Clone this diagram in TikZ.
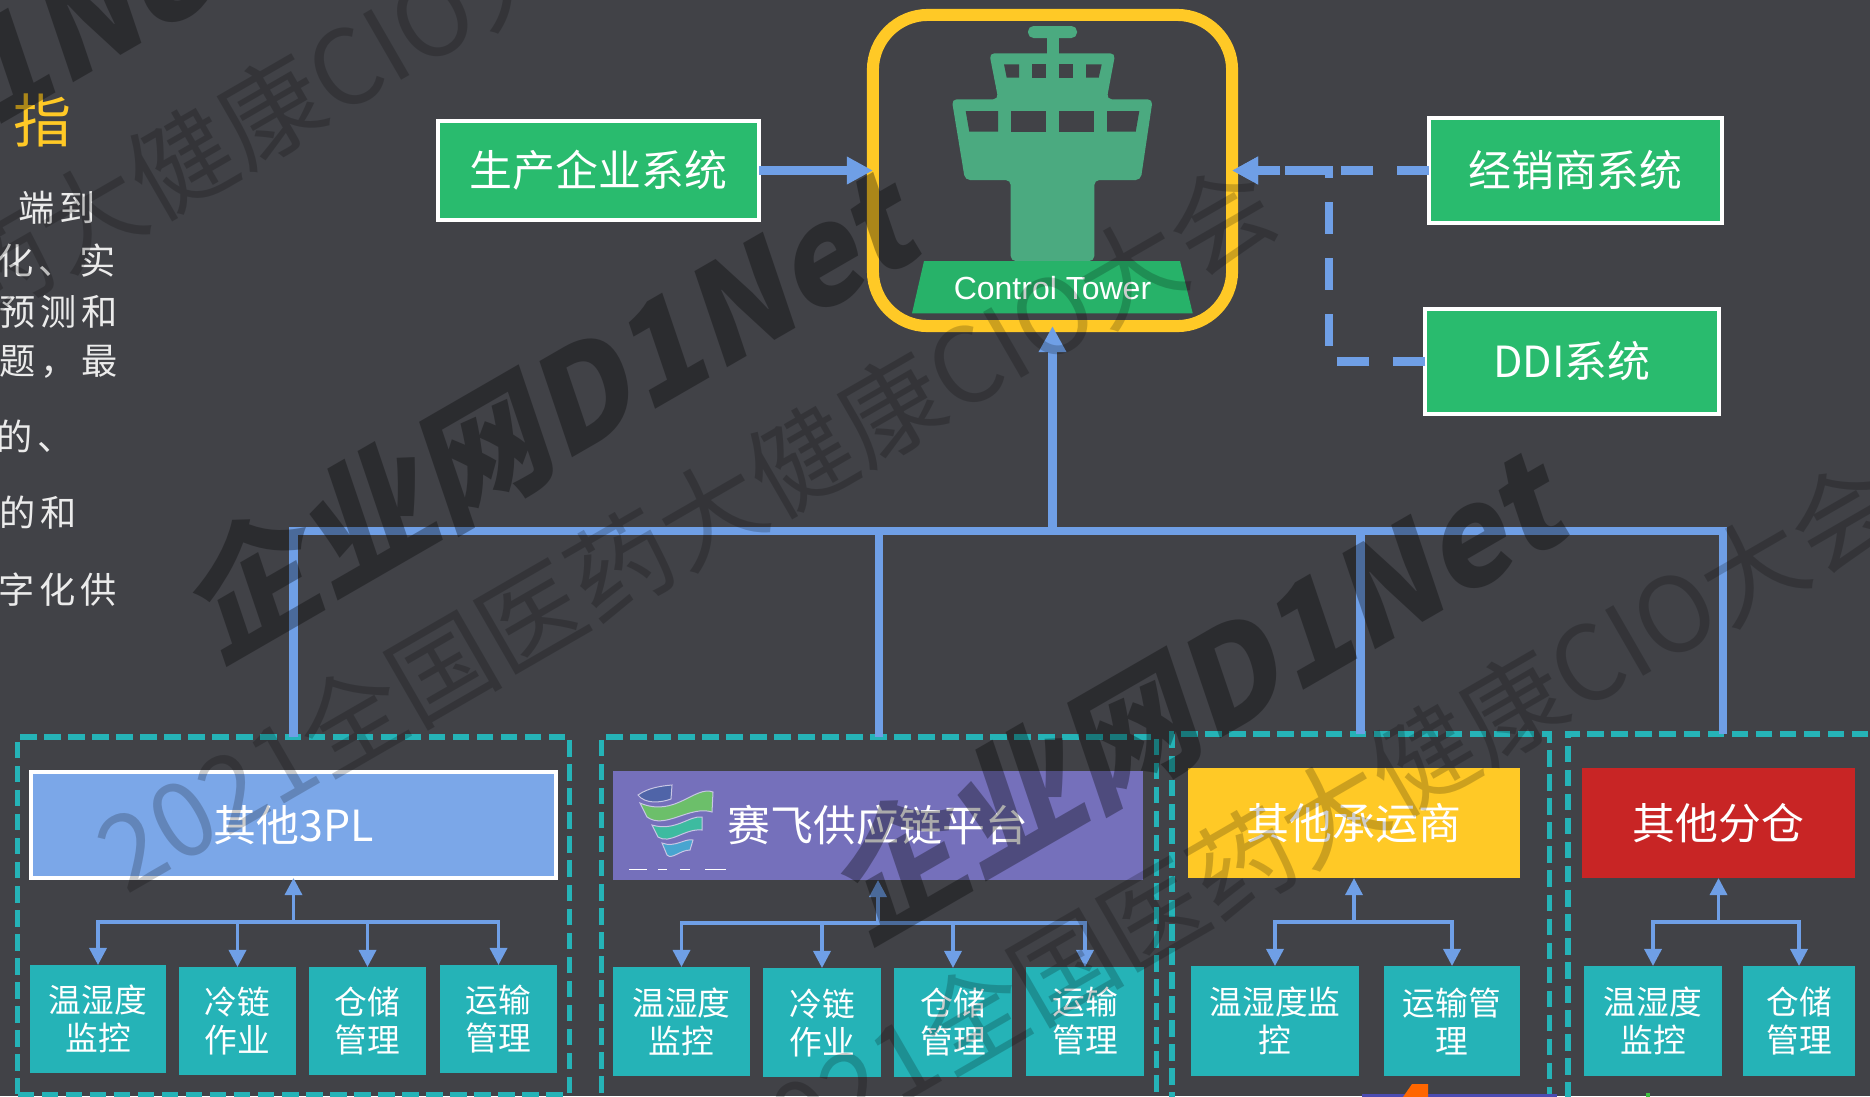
\documentclass[tikz,border=0pt]{standalone}
\usepackage{fontspec}
\usepackage{xcolor}
\usetikzlibrary{arrows.meta}
\usetikzlibrary{positioning}
\setmainfont{Noto Sans CJK SC}
\newfontfamily\arialfont{Liberation Sans}
\newfontfamily\slantfont[FakeSlant=0.2]{Noto Sans CJK SC}
\definecolor{bgcol}{HTML}{414247}
\definecolor{bluecol}{HTML}{6F9FE6}
\definecolor{tealcol}{HTML}{25B3B7}
\definecolor{yellowcol}{HTML}{FFC926}
\definecolor{redcol}{HTML}{C82525}
\definecolor{purplecol}{HTML}{7570BB}
\definecolor{greencol}{HTML}{29BB6E}
\definecolor{towercol}{HTML}{4BAA80}
\tikzset{
	group/.style={draw=tealcol,rectangle,line width=0.52mm,dash pattern=on 1.65mm off 0.75mm,outer sep=0pt},
	system/.style={draw=white,rectangle,fill=greencol,text=white,line width=0.4mm,outer sep=0pt,font=\fontsize{12.2}{14}\selectfont},
	head/.style={rectangle,text=white,outer sep=0pt,minimum height=1.1cm,font=\fontsize{12.2}{14}\selectfont},
	task/.style={rectangle,fill=tealcol,text=white,outer sep=0pt,inner sep=0pt,align=center,font=\fontsize{9.3}{10.8}\selectfont},
	bus/.style={draw=bluecol,line width=0.85mm},
	busdash/.style={bus,dash pattern=on 3.2mm off 2.4mm},
	sub/.style={draw=bluecol,line width=0.34mm},
	side/.style={anchor=east,text=white!92!black,inner sep=0pt,font=\fontsize{10.3}{12}\selectfont\addfontfeature{LetterSpace=13}},
	wmbig/.style={text=black,text opacity=0.33,rotate=30,anchor=base,inner sep=0pt,font=\fontsize{38}{40}\slantfont\bfseries},
	wmthin/.style={text=black,text opacity=0.2,rotate=30,inner sep=0pt,font=\fontsize{29.5}{32}\selectfont}
}
\begin{document}
\begin{tikzpicture}[x=0.01cm,y=-0.01cm,every path/.style={>={Triangle[length=2.6mm,width=2.6mm]}}]
		\clip (0,0) rectangle (1870,1096);
		\fill[bgcol] (0,0) rectangle (1870,1096);

		% draw cut off text at the left edge
		\node (L0) at (72,120) [anchor=east,text=yellowcol,inner sep=0pt,font=\fontsize{16.5}{18}\selectfont] {指};
		\node (L1) at (96,208) [side] {端到};
		\node (L2) at (116,261) [side] {化、实};
		\node (L3) at (118,312) [side] {预测和};
		\node (L4) at (118,362) [side] {题，最};
		\node (L5) at (74,436) [side] {的、};
		\node (L6) at (77,513) [side] {的和};
		\node (L7) at (117,590) [side] {字化供};

		% draw dashed groups
		\node (G1) at (293.5,915.5) [group,minimum width=5.51cm,minimum height=3.57cm] {};
		\node (G2) at (879,925) [group,minimum width=5.545cm,minimum height=3.76cm] {};
		\node (G3) at (1360.5,922) [group,minimum width=3.77cm,minimum height=3.76cm] {};
		\node (G4) at (1723,922) [group,minimum width=3.1cm,minimum height=3.76cm] {};

		% draw group heads
		\node (H1) at (293.5,825) [head,draw=white,line width=0.4mm,fill=bluecol!92!white,minimum width=5.25cm,minimum height=1.06cm] {其他3PL};
		\node (H2) at (878,825.5) [head,fill=purplecol,minimum width=5.3cm,minimum height=1.09cm] {赛飞供应链平台};
		\node (H3) at (1354,823) [head,fill=yellowcol,minimum width=3.32cm] {其他承运商};
		\node (H4) at (1718.5,823) [head,fill=redcol,minimum width=2.73cm] {其他分仓};

		% draw logo in the purple head
		\filldraw[fill={rgb,255:red,79;green,100;blue,168},draw=white!60!purplecol,line width=0.1mm] (638,795) .. controls (648,788) and (660,786) .. (672,785) -- (671,799) .. controls (660,803) and (645,804) .. (638,795) -- cycle;
		\filldraw[fill={rgb,255:red,108;green,191;blue,106},draw=white!60!purplecol,line width=0.1mm] (640,803) .. controls (675,818) and (695,785) .. (713,792) -- (712,812) .. controls (690,805) and (665,830) .. (647,817) -- cycle;
		\filldraw[fill={rgb,255:red,61;green,187;blue,160},draw=white!60!purplecol,line width=0.1mm] (652,825) .. controls (675,832) and (690,815) .. (702,817) -- (702,830) .. controls (685,828) and (670,845) .. (658,837) -- cycle;
		\filldraw[fill={rgb,255:red,72;green,165;blue,208},draw=white!60!purplecol,line width=0.1mm] (662,843) .. controls (675,848) and (685,838) .. (693,840) -- (690,850) .. controls (680,850) and (672,860) .. (667,855) -- cycle;
		\draw[white,line width=0.08mm] (629,869) -- (647,869) (658,869) -- (667,869) (680,869) -- (690,869) (705,869) -- (726,869);

		% draw tasks of group 1
		\node (T11) at (98,1019) [task,minimum width=1.36cm,minimum height=1.08cm] {温湿度\\监控};
		\node (T12) at (237.5,1021) [task,minimum width=1.17cm,minimum height=1.08cm] {冷链\\作业};
		\node (T13) at (367.5,1021) [task,minimum width=1.17cm,minimum height=1.08cm] {仓储\\管理};
		\node (T14) at (498.5,1019) [task,minimum width=1.17cm,minimum height=1.08cm] {运输\\管理};

		% draw tasks of group 2
		\node (T21) at (681.5,1021.5) [task,minimum width=1.37cm,minimum height=1.09cm] {温湿度\\监控};
		\node (T22) at (822,1022.5) [task,minimum width=1.18cm,minimum height=1.09cm] {冷链\\作业};
		\node (T23) at (953,1022.5) [task,minimum width=1.18cm,minimum height=1.09cm] {仓储\\管理};
		\node (T24) at (1085,1021.5) [task,minimum width=1.18cm,minimum height=1.09cm] {运输\\管理};

		% draw tasks of group 3
		\node (T31) at (1275,1021) [task,minimum width=1.68cm,minimum height=1.1cm] {温湿度监\\控};
		\node (T32) at (1452,1021) [task,minimum width=1.36cm,minimum height=1.1cm] {运输管\\理};

		% draw tasks of group 4
		\node (T41) at (1653,1021) [task,minimum width=1.38cm,minimum height=1.1cm] {温湿度\\监控};
		\node (T42) at (1799,1021) [task,minimum width=1.12cm,minimum height=1.1cm] {仓储\\管理};

		% draw thin bus lines inside the groups
		\coordinate (B1) at (293.5,922);
		\coordinate (B2) at (878,923);
		\coordinate (B3) at (1354,922);
		\coordinate (B4) at (1718.5,922);
		\begin{scope}[every path/.style={>={Triangle[length=1.7mm,width=1.7mm]}}]
		\draw[sub,->] (B1) to (H1.south);
		\draw[sub,->] (B1) -| (T11.north);
		\draw[sub,->] (B1) -| (T12.north);
		\draw[sub,->] (B1) -| (T13.north);
		\draw[sub,->] (B1) -| (T14.north);
		\draw[sub,->] (B2) to (H2.south);
		\draw[sub,->] (B2) -| (T21.north);
		\draw[sub,->] (B2) -| (T22.north);
		\draw[sub,->] (B2) -| (T23.north);
		\draw[sub,->] (B2) -| (T24.north);
		\draw[sub,->] (B3) to (H3.south);
		\draw[sub,->] (B3) -| (T31.north);
		\draw[sub,->] (B3) -| (T32.north);
		\draw[sub,->] (B4) to (H4.south);
		\draw[sub,->] (B4) -| (T41.north);
		\draw[sub,->] (B4) -| (T42.north);
		\end{scope}

		% draw control tower
		\node (CT) at (1052.5,170.5) [draw=yellowcol,rectangle,line width=1.2mm,rounded corners=5.5mm,outer sep=0pt,minimum width=3.59cm,minimum height=3.11cm] {};
		\fill[towercol,rounded corners=0.55mm] (1028,26) rectangle (1077,38);
		\fill[towercol] (1047,36) rectangle (1059,55);
		\fill[towercol,rounded corners=0.5mm] (989.3,53.3) -- (1115.3,53.3) -- (1106.7,99.3) -- (1152.7,99.3) -- (1140.7,180) -- (1094.3,180) -- (1094.3,261) -- (1010.7,261) -- (1010.7,180) -- (965,180) -- (951.7,99.3) -- (998.3,99.3) -- cycle;
		\fill[bgcol] (1004,64.3) -- (1019,64.3) -- (1019,77.7) -- (1006.7,77.7) -- cycle;
		\fill[bgcol] (1031.7,64.3) rectangle (1046,77.7);
		\fill[bgcol] (1059,64.3) rectangle (1073.3,77.7);
		\fill[bgcol] (1086,64.3) -- (1101.7,64.3) -- (1098.7,77.7) -- (1086,77.7) -- cycle;
		\fill[bgcol] (965.7,111) -- (998,111) -- (998,131.7) -- (969.3,131.7) -- cycle;
		\fill[bgcol] (1010.7,111) rectangle (1046,131.7);
		\fill[bgcol] (1059,111) rectangle (1094.3,131.7);
		\fill[bgcol] (1107,111) -- (1139.3,111) -- (1135.7,131.7) -- (1107,131.7) -- cycle;
		\fill[greencol!95!black] (924,261) -- (1180,261) -- (1192.7,313.3) -- (912,313.3) -- cycle;
		\node (CTL) at (1052.5,288) [text=white,inner sep=0pt,font=\fontsize{9.1}{10}\arialfont] {Control Tower};

		% draw systems
		\node (S1) at (598.5,170.5) [system,minimum width=3.21cm,minimum height=0.99cm] {生产企业系统};
		\node (S2) at (1575.5,170.5) [system,minimum width=2.93cm,minimum height=1.05cm] {经销商系统};
		\node (S3) at (1572,361.5) [system,minimum width=2.93cm,minimum height=1.05cm] {DDI系统};

		% draw lines from systems to tower
		\coordinate (J) at (1329,170.5);
		\draw[bus,->] (S1.east) to (CT.west);
		\draw[busdash,->] (S2.west) to (CT.east);
		\draw[busdash,->] (S3.west) -| (J) -- (CT.east);

		% draw lines from groups to tower
		\coordinate (HUB) at (1052.5,531);
		\draw[bus,->] (HUB) to (CT.south);
		\draw[bus] (G1.north) |- (HUB);
		\draw[bus] (G2.north) |- (HUB);
		\draw[bus] (G3.north) |- (HUB);
		\draw[bus] (G4.north) |- (HUB);

		% draw cut off shapes at the lower edge
		\fill[blue!40!gray] (1362,1094) rectangle (1557,1097);
		\fill[orange!80!red] (1403,1097) -- (1412,1084) -- (1428,1084) -- (1428,1097) -- cycle;
		\fill[green!50!gray] (1646,1093) rectangle (1650,1097);

		% draw watermarks
		\node (W1) at (570,459) [wmbig] {企业网D1Net};
		\node (W2) at (1218,740) [wmbig] {企业网D1Net};
		\node (W3) at (-84,174) [wmbig] {企业网D1Net};
		\node (W4) at (686,526) [wmthin] {2021全国医药大健康CIO大会};
		\node (W5) at (1308,824) [wmthin] {2021全国医药大健康CIO大会};
		\node (W6) at (66,228) [wmthin] {2021全国医药大健康CIO大会};
	\end{tikzpicture}
\end{document}
